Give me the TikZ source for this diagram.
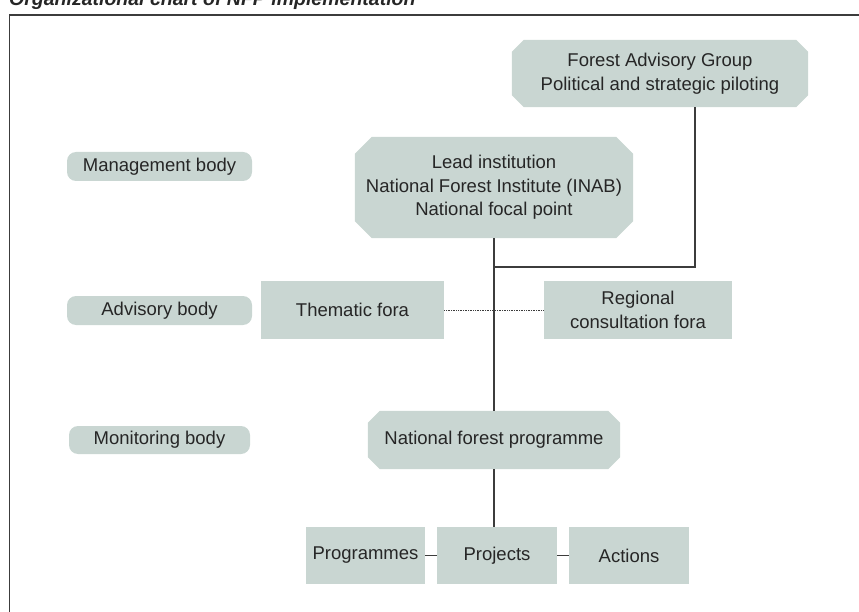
\documentclass[tikz,border=0pt]{standalone}
\usepackage{fontspec}
\setmainfont{Liberation Sans}
\pgfdeclarelayer{background}
\pgfsetlayers{background,main}
\definecolor{boxfill}{HTML}{C9D6D2}
\definecolor{txt}{HTML}{262626}
\definecolor{linec}{HTML}{3C3C3C}
\tikzset{
  base/.style={inner sep=0pt, align=center, text=txt, font=\fontsize{18.5}{23.5}\selectfont},
  rectbox/.style={base, rectangle, fill=boxfill},
  octbox/.style={base, rectangle},
  pill/.style={base, rectangle, rounded corners=9pt, fill=boxfill},
  conn/.style={draw=linec, line width=1.2pt},
  dotconn/.style={draw=linec, line width=0.7pt, densely dotted},
}
\newcommand{\octfill}[2]{%
  \fill[boxfill] ([xshift=#2]#1.north west) -- ([xshift=-#2]#1.north east) -- ([yshift=-#2]#1.north east)
    -- ([yshift=#2]#1.south east) -- ([xshift=-#2]#1.south east) -- ([xshift=#2]#1.south west)
    -- ([yshift=#2]#1.south west) -- ([yshift=-#2]#1.north west) -- cycle;}
\begin{document}
\begin{tikzpicture}[x=1pt,y=-1pt]
\useasboundingbox (0,0) rectangle (859,612);
% title (cropped at top, as in the reference)
\node[anchor=base west, inner sep=0pt, text=txt, font=\fontsize{19.5}{22}\selectfont\bfseries\itshape] (title) at (9,5.5) {Organizational chart of NFP implementation};
% frame
\draw[draw=linec, line width=1.3pt] (9.5,640) -- (9.5,15) -- (880,15);
% left pills
\node[pill, minimum width=185pt, minimum height=29pt] (mgmt) at (159.5,166.5) {Management body};
\node[pill, minimum width=185pt, minimum height=29pt] (adv) at (159.5,310.5) {Advisory body};
\node[pill, minimum width=181pt, minimum height=28pt] (mon) at (159.5,440) {Monitoring body};
% octagon boxes
\node[octbox, minimum width=296pt, minimum height=67pt] (fag) at (660,73.5) {Forest Advisory Group\\Political and strategic piloting};
\node[octbox, minimum width=278pt, minimum height=101pt] (lead) at (494,187.5) {Lead institution\\National Forest Institute (INAB)\\National focal point};
\node[octbox, minimum width=252pt, minimum height=58pt] (nfp) at (494,440) {National forest programme};
\begin{pgfonlayer}{background}
\octfill{fag}{12pt}
\octfill{lead}{17pt}
\octfill{nfp}{12pt}
\end{pgfonlayer}
% rectangles
\node[rectbox, minimum width=183pt, minimum height=58pt] (them) at (352.5,310) {Thematic fora};
\node[rectbox, minimum width=188pt, minimum height=58pt] (reg) at (638,310) {Regional\\consultation fora};
\node[rectbox, minimum width=119pt, minimum height=57pt] (prog) at (365.5,555.5) {Programmes};
\node[rectbox, minimum width=120pt, minimum height=57pt] (proj) at (497,555.5) {\raisebox{1.5pt}{Projects}};
\node[rectbox, minimum width=120pt, minimum height=57pt] (act) at (629,555.5) {Actions};
% connectors
\coordinate (j1) at (494,267);
\draw[conn] ([xshift=35pt]fag.south) |- (j1);
\draw[conn] (lead.south) -- (nfp.north);
\draw[dotconn] (them.east) -- (reg.west);
\draw[conn] (nfp.south) -- (nfp.south |- proj.north);
\draw[conn] (prog.east) -- (proj.west);
\draw[conn] (proj.east) -- (act.west);
\end{tikzpicture}
\end{document}
